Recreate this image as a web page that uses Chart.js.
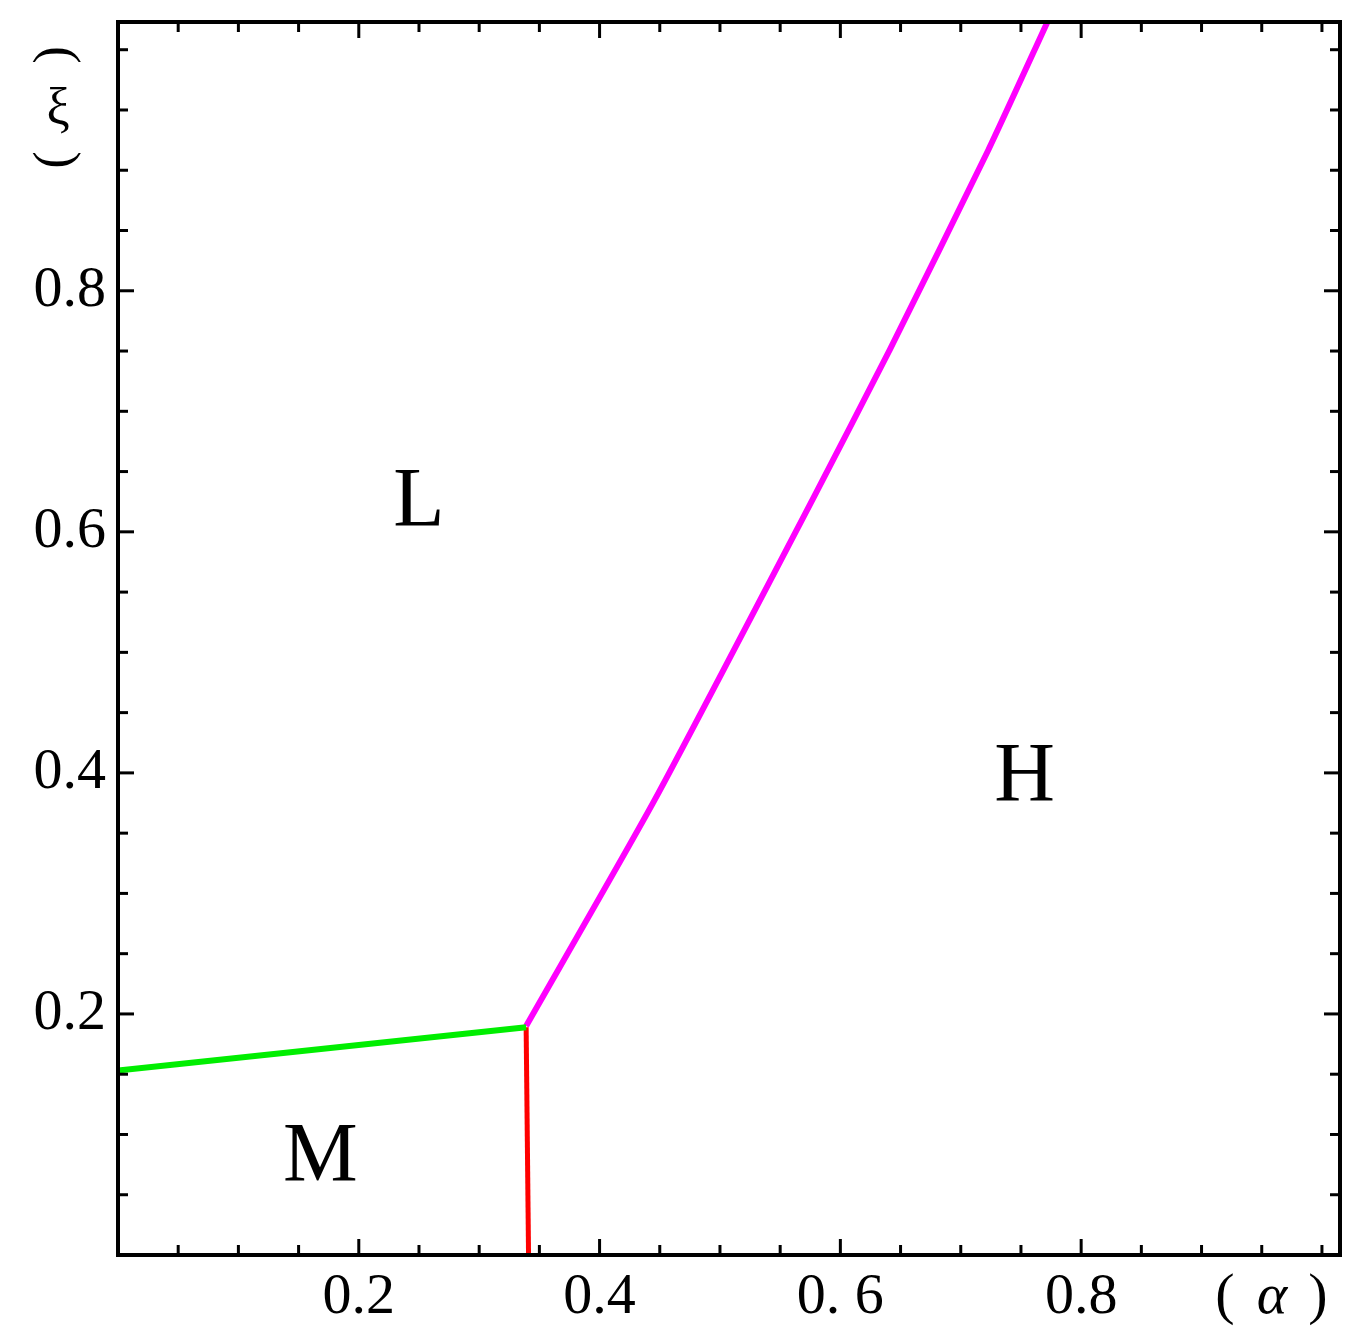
<!DOCTYPE html>
<html>
<head>
<meta charset="utf-8">
<script src="https://cdn.jsdelivr.net/npm/chart.js@4/dist/chart.umd.min.js"></script>
<style>
  html, body { margin: 0; padding: 0; background: #fff; }
  #wrap { width: 1358px; height: 1342px; }
</style>
</head>
<body>
<div id="wrap"><canvas id="phase"></canvas></div>
<script>
// ---------------- data ----------------
var greenX = [0, 0.339];
var greenY = [0.153, 0.189];
var redX = [0.339, 0.341];
var redY = [0.189, 0];
var magentaX = [0.339, 0.446, 0.577, 0.641, 0.723, 0.772];
var magentaY = [0.19, 0.378, 0.627, 0.751, 0.917, 1.023];

var tickValues = [0.05, 0.1, 0.15, 0.2, 0.25, 0.3, 0.35, 0.4, 0.45, 0.5, 0.55, 0.6, 0.65, 0.7, 0.75, 0.8, 0.85, 0.9, 0.95, 1.0];
var majorTicks = [0.2, 0.4, 0.6, 0.8];
var xTickLabels = ["0.2", "0.4", "0. 6", "0.8"];
var yTickLabels = ["0.2", "0.4", "0.6", "0.8"];

var regionNames = ["L", "H", "M"];
var regionX = [0.25, 0.753, 0.168];
var regionY = [0.623, 0.395, 0.08];

function pts(xs, ys) {
  return xs.map(function (x, i) { return { x: x, y: ys[i] }; });
}

// ------------------ custom axes / labels ------------------
var decor = {
  id: "decor",
  afterDraw: function (chart) {
    var ctx = chart.ctx;
    var a = chart.chartArea;
    var xs = chart.scales.x, ys = chart.scales.y;
    ctx.save();
    ctx.strokeStyle = "#000";
    ctx.lineWidth = 3;
    tickValues.forEach(function (v) {
      var len = majorTicks.some(function (m) { return Math.abs(m - v) < 1e-9; }) ? 16 : 10;
      var px = xs.getPixelForValue(v);
      ctx.beginPath(); ctx.moveTo(px, a.bottom); ctx.lineTo(px, a.bottom - len); ctx.stroke();
      ctx.beginPath(); ctx.moveTo(px, a.top); ctx.lineTo(px, a.top + len); ctx.stroke();
      var py = ys.getPixelForValue(v);
      ctx.beginPath(); ctx.moveTo(a.left, py); ctx.lineTo(a.left + len, py); ctx.stroke();
      ctx.beginPath(); ctx.moveTo(a.right, py); ctx.lineTo(a.right - len, py); ctx.stroke();
    });
    ctx.lineWidth = 4;
    ctx.strokeRect(a.left, a.top, a.right - a.left, a.bottom - a.top);

    ctx.fillStyle = "#000";
    ctx.font = "58px 'Liberation Serif', serif";
    ctx.textAlign = "center"; ctx.textBaseline = "top";
    majorTicks.forEach(function (v, i) {
      ctx.fillText(xTickLabels[i], xs.getPixelForValue(v), a.bottom + 14);
    });
    ctx.textAlign = "right"; ctx.textBaseline = "middle";
    majorTicks.forEach(function (v, i) {
      ctx.fillText(yTickLabels[i], 106, ys.getPixelForValue(v));
    });
    // axis titles
    ctx.textAlign = "center"; ctx.textBaseline = "top";
    ctx.fillText("(", 1225, a.bottom + 14);
    ctx.fillText(")", 1318, a.bottom + 14);
    ctx.font = "italic 58px 'Liberation Serif', serif";
    ctx.fillText("α", 1272, a.bottom + 14);
    ctx.font = "52px 'Liberation Serif', serif";
    ctx.textBaseline = "middle";
    ctx.fillText("ξ", 58, 110);
    [[58, 55, "("], [58, 160, ")"]].forEach(function (p) {
      ctx.save();
      ctx.translate(p[0], p[1]);
      ctx.rotate(Math.PI / 2);
      ctx.fillText(p[2], 0, 0);
      ctx.restore();
    });

    ctx.font = "84px 'Liberation Serif', serif";
    ctx.textAlign = "center"; ctx.textBaseline = "middle";
    regionNames.forEach(function (n, i) {
      ctx.fillText(n, xs.getPixelForValue(regionX[i]), ys.getPixelForValue(regionY[i]));
    });
    ctx.restore();
  }
};

new Chart(document.getElementById("phase"), {
  type: "scatter",
  data: {
    datasets: [
      { data: pts(greenX, greenY), showLine: true, borderColor: "#00ee00", borderWidth: 6, pointRadius: 0 },
      { data: pts(redX, redY), showLine: true, borderColor: "#ff0000", borderWidth: 5, pointRadius: 0 },
      { data: pts(magentaX, magentaY), showLine: true, borderColor: "#ff00ff", borderWidth: 6, pointRadius: 0, tension: 0.2 }
    ]
  },
  options: {
    responsive: true,
    maintainAspectRatio: false,
    animation: false,
    layout: { padding: { left: 118, right: 18, top: 22, bottom: 87 } },
    plugins: { legend: { display: false }, tooltip: { enabled: false } },
    scales: {
      x: { type: "linear", min: 0, max: 1.015, display: false },
      y: { type: "linear", min: 0, max: 1.023, display: false }
    }
  },
  plugins: [decor]
});
</script>
</body>
</html>
